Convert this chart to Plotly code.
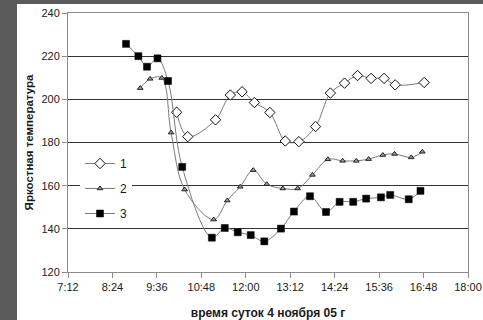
import plotly.graph_objects as go

DAY = "2005-11-04"

# Series 1 (diamonds)
t1 = ["10:08", "10:26", "11:11", "11:35", "11:54", "12:14", "12:39", "13:04", "13:26",
      "13:53", "14:17", "14:40", "15:01", "15:23", "15:44", "16:02", "16:49"]
v1 = [194.0, 182.7, 190.5, 202.0, 203.5, 198.5, 193.9, 180.7, 180.4,
      187.4, 202.9, 207.5, 211.0, 209.7, 209.7, 206.7, 207.8]

# Series 2 (triangles)
t2 = ["9:09", "9:25", "9:44", "9:59", "10:21", "11:08", "11:30", "11:51", "12:12", "12:34",
      "13:00", "13:24", "13:48", "14:13", "14:37", "14:59", "15:19", "15:42", "16:01",
      "16:28", "16:46"]
v2 = [205.2, 209.5, 209.9, 184.6, 158.2, 144.3, 153.1, 159.5, 167.2, 160.7,
      158.7, 158.7, 165.0, 172.2, 171.5, 171.5, 172.3, 174.2, 174.7,
      173.1, 175.7]

# Series 3 (squares)
t3 = ["8:46", "9:06", "9:20", "9:37", "9:54", "10:17", "11:05", "11:26", "11:47", "12:08",
      "12:30", "12:57", "13:18", "13:44", "14:10", "14:32", "14:54", "15:15", "15:39",
      "15:54", "16:24", "16:43"]
v3 = [225.7, 220.0, 215.1, 219.0, 208.5, 168.7, 135.9, 140.4, 138.4, 137.1,
      134.2, 140.1, 148.0, 155.1, 147.8, 152.5, 152.5, 154.0, 154.6,
      155.7, 153.7, 157.6]

names = ["1", "2", "3"]


def stamp(times):
    return [f"{DAY} {t.zfill(5)}" for t in times]


LINE = dict(color="#7a7a7a", width=1, shape="spline", smoothing=1)
FONT = "Liberation Sans, Arial, sans-serif"
TITLE_FONT = dict(size=12, family=FONT, color="#1a1a1a")

fig = go.Figure()
fig.add_trace(go.Scatter(
    x=stamp(t1), y=v1, name=names[0], mode="lines+markers", line=LINE,
    legendgroup="a",
    marker=dict(symbol="diamond", size=8, color="white",
                line=dict(color="#111111", width=1)),
))
fig.add_trace(go.Scatter(
    x=stamp(t2), y=v2, name=names[1], mode="lines+markers", line=LINE,
    legendgroup="b",
    marker=dict(symbol="triangle-up", size=5, color="#9a9a9a",
                line=dict(color="#222222", width=1)),
))
fig.add_trace(go.Scatter(
    x=stamp(t3), y=v3, name=names[2], mode="lines+markers", line=LINE,
    legendgroup="c",
    marker=dict(symbol="square", size=7, color="black",
                line=dict(color="black", width=0.5)),
))

# dark frame along the top and left edges of the page
fig.add_shape(type="rect", xref="paper", yref="paper", layer="below",
              x0=-0.1275, x1=1.2, y0=-0.4, y1=1.0347,
              fillcolor="white", line=dict(width=0))

fig.update_layout(
    width=483, height=320,
    margin=dict(l=68, r=15, t=13, b=48, autoexpand=False),
    paper_bgcolor="#5a5a5a",
    plot_bgcolor="white",
    font=dict(family=FONT, size=11, color="#1a1a1a"),
    showlegend=True,
    legend=dict(x=0.03, y=0.475, xanchor="left", yanchor="top",
                bgcolor="white", borderwidth=0, tracegroupgap=6,
                itemwidth=30, font=dict(size=12, family=FONT, color="#1a1a1a")),
    xaxis=dict(
        type="date", automargin=False,
        range=[f"{DAY} 07:12", f"{DAY} 18:00"],
        tick0=f"{DAY} 07:12", dtick=72 * 60 * 1000,
        tickformat="%-H:%M",
        showgrid=False, zeroline=False,
        showline=True, linecolor="#8c8c8c", linewidth=1, mirror=True,
        ticks="outside", ticklen=5, tickcolor="#8c8c8c",
        title=dict(text="<b>время суток 4 ноября 05 г</b>",
                   font=TITLE_FONT, standoff=16),
    ),
    yaxis=dict(
        automargin=False,
        range=[120, 240], dtick=20,
        showgrid=True, gridcolor="#333333", gridwidth=1, zeroline=False,
        showline=True, linecolor="#8c8c8c", linewidth=1, mirror=True,
        ticks="outside", ticklen=5, tickcolor="#8c8c8c",
        title=dict(text="<b>Яркостная температура</b>",
                   font=dict(size=11.5, family=FONT, color="#1a1a1a"), standoff=5),
    ),
)

fig.write_html("out.html")
